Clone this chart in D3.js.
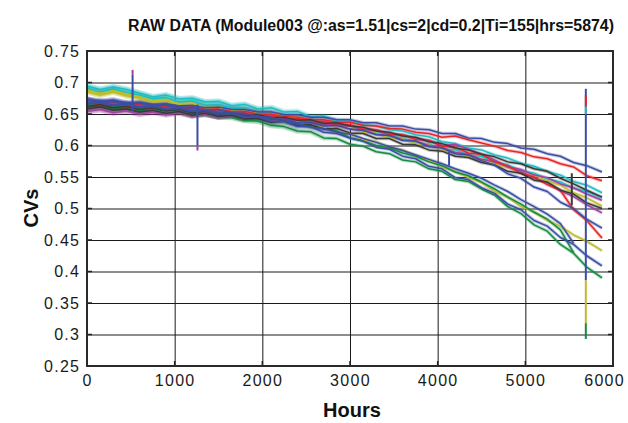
<!DOCTYPE html>
<html><head><meta charset="utf-8">
<script src="https://cdn.jsdelivr.net/npm/d3@7/dist/d3.min.js"></script>
<style>
html,body{margin:0;padding:0;background:#fff;}
svg{display:block;}
</style></head>
<body>
<svg id="chart" width="628" height="423"></svg>
<script>
// ---------- DATA ----------
const titleText = "RAW DATA (Module003 @:as=1.51|cs=2|cd=0.2|Ti=155|hrs=5874)";
const xLabel = "Hours";
const yLabel = "CVs";
const xTicks = [0, 1000, 2000, 3000, 4000, 5000, 6000];
const xTickLabels = ["0", "1000", "2000", "3000", "4000", "5000", "6000"];
const yTicks = [0.25, 0.3, 0.35, 0.4, 0.45, 0.5, 0.55, 0.6, 0.65, 0.7, 0.75];
const yTickLabels = ["0.25", "0.3", "0.35", "0.4", "0.45", "0.5", "0.55", "0.6", "0.65", "0.7", "0.75"];

const hours = [0,150,300,450,600,750,900,1050,1200,1350,1500,1650,1800,1950,2100,2250,2400,2550,2700,2850,3000,3150,3300,3450,3600,3750,3900,4050,4200,4350,4500,4650,4800,4950,5100,5250,5400,5550,5700,5874];

const cyanA = [.694,.689,.693,.689,.683,.677,.680,.674,.675,.669,.670,.663,.665,.658,.660,.653,.654,.646,.647,.639,.639,.633,.631,.625,.623,.617,.614,.606,.603,.596,.593,.585,.580,.572,.567,.559,.553,.543,.537,.525];
const cyanB = [.691,.685,.690,.684,.680,.674,.676,.669,.671,.664,.665,.659,.658,.652,.651,.645,.645,.638,.638,.631,.631,.623,.621,.614,.612,.604,.602,.594,.593,.585,.583,.573,.569,.560,.556,.547,.542,.532,.527,.517];
const yellowA = [.685,.680,.685,.679,.675,.669,.671,.665,.666,.660,.662,.656,.657,.651,.652,.646,.645,.638,.637,.630,.629,.621,.620,.612,.611,.603,.601,.593,.590,.582,.579,.570,.566,.557,.553,.544,.537,.525,.517,.504];
const yellowB = [.688,.683,.687,.682,.677,.671,.673,.666,.667,.660,.660,.652,.653,.645,.646,.638,.637,.629,.629,.620,.619,.609,.606,.596,.593,.583,.577,.566,.559,.549,.541,.527,.518,.503,.495,.481,.472,.458,.448,.433];
const greenA = [.663,.665,.660,.661,.656,.658,.653,.654,.649,.650,.646,.645,.640,.639,.632,.630,.623,.622,.612,.611,.602,.599,.590,.587,.577,.574,.563,.559,.546,.543,.531,.521,.503,.492,.474,.464,.443,.429,.407,.390];
const greenB = [.664,.667,.661,.664,.658,.661,.656,.658,.653,.655,.650,.651,.647,.645,.642,.639,.635,.632,.627,.623,.612,.607,.600,.596,.588,.583,.574,.568,.558,.552,.542,.531,.518,.507,.494,.483,.466,.430,null,null];
const magentaA = [.654,.657,.652,.655,.650,.653,.649,.652,.647,.650,.645,.648,.643,.645,.640,.642,.636,.638,.632,.633,.626,.624,.618,.616,.609,.607,.600,.597,.589,.586,.578,.574,.566,.562,.553,.549,.539,.533,.523,.513];
const magentaB = [.672,.667,.669,.664,.666,.661,.663,.658,.659,.655,.656,.651,.651,.646,.646,.641,.641,.636,.636,.631,.631,.625,.624,.618,.617,.611,.608,.600,.602,.594,.586,.577,.566,.559,.548,.541,.528,.519,.506,.493];
const redA = [.669,.666,.667,.664,.665,.662,.662,.659,.660,.657,.658,.654,.654,.650,.650,.646,.645,.641,.641,.637,.637,.632,.631,.627,.626,.621,.619,.613,.615,.609,.604,.599,.592,.589,.582,.579,.571,.566,.552,.544];
const redB = [.669,.664,.667,.661,.664,.659,.662,.657,.659,.654,.657,.651,.652,.646,.648,.642,.643,.637,.638,.632,.633,.626,.625,.618,.617,.610,.608,.599,.597,.588,.586,.574,.568,.556,.550,.538,.529,.498,.481,.453];
const blackA = [.662,.665,.660,.662,.657,.660,.655,.658,.652,.655,.650,.652,.647,.649,.644,.645,.640,.641,.635,.636,.631,.629,.623,.621,.615,.613,.606,.603,.596,.593,.586,.582,.574,.571,.563,.559,.548,.539,.529,.518];
const blackB = [.658,.661,.656,.658,.653,.656,.651,.654,.648,.651,.646,.648,.642,.643,.637,.639,.632,.633,.626,.627,.620,.619,.611,.611,.602,.601,.593,.591,.583,.581,.573,.569,.559,.556,.545,.542,.529,.523,.509,.500];
const blueA = [.673,.670,.672,.667,.668,.665,.666,.663,.664,.660,.661,.657,.657,.653,.653,.649,.649,.645,.645,.641,.641,.636,.636,.631,.631,.626,.625,.619,.619,.612,.611,.605,.603,.596,.594,.587,.583,.573,.568,.558];
const blueB = [.666,.668,.663,.665,.660,.662,.657,.659,.654,.656,.651,.652,.646,.647,.641,.642,.636,.637,.631,.632,.626,.624,.617,.616,.608,.607,.598,.596,.587,.585,.576,.569,.555,.548,.534,.527,.510,.500,.483,.469];
const blueC = [.668,.670,.664,.667,.661,.663,.657,.659,.654,.656,.650,.651,.645,.645,.638,.638,.630,.630,.621,.619,.612,.607,.597,.594,.583,.579,.567,.563,.549,.546,.533,.524,.507,.498,.481,.472,.454,.443,.425,.409];
const blueD = [.673,.668,.670,.665,.667,.662,.664,.659,.660,.656,.657,.652,.651,.646,.645,.639,.634,.629,.627,.621,.618,.611,.605,.598,.592,.585,.578,.571,.563,.556,.548,.537,.527,.514,.503,.491,.476,.445,null,null];

// spikes: vertical glitches (hour, from value, to value, colour key)
const spikeHour = [520, 520, 1260, 1260, 5690, 5690, 5690, 5690, 5690, 4130, 5530];
const spikeFrom = [0.655, 0.712, 0.665, 0.600, 0.690, 0.680, 0.386, 0.318, 0.662, 0.590, 0.556];
const spikeTo   = [0.712, 0.720, 0.600, 0.592, 0.386, 0.661, 0.318, 0.293, 0.650, 0.568, 0.505];
const spikeColor = ["blue", "magenta", "blue", "magenta", "blue", "red", "yellow", "green", "cyan", "blue", "black"];

const palette = {
  blue: "#3a4ea5", red: "#e8262a", green: "#148a42", cyan: "#20bcc4",
  magenta: "#a340a3", yellow: "#bcbc2c", black: "#3a3a3a"
};

const series = [
  {c: "cyan", v: cyanA}, {c: "cyan", v: cyanB},
  {c: "yellow", v: yellowA}, {c: "yellow", v: yellowB},
  {c: "green", v: greenA}, {c: "green", v: greenB},
  {c: "magenta", v: magentaA}, {c: "magenta", v: magentaB},
  {c: "red", v: redA}, {c: "red", v: redB},
  {c: "black", v: blackA}, {c: "black", v: blackB},
  {c: "blue", v: blueA}, {c: "blue", v: blueB}, {c: "blue", v: blueC}, {c: "blue", v: blueD}
];

// ---------- CHART ----------
const svg = d3.select("#chart");
const X0 = 87, X1 = 613, Y0 = 51, Y1 = 366;
const x = d3.scaleLinear().domain([0, 6000]).range([X0, X1]);
const y = d3.scaleLinear().domain([0.25, 0.75]).range([Y1, Y0]);
const W = X1 - X0, H = Y1 - Y0;
const tickFont = "'Liberation Sans', Arial, sans-serif";

// grid + axes
const gx = svg.append("g").attr("transform", `translate(0,${Y1})`)
  .call(d3.axisBottom(x).tickValues(xTicks).tickFormat((d, i) => xTickLabels[i])
    .tickSizeInner(-H).tickSizeOuter(0).tickPadding(9));
const gy = svg.append("g").attr("transform", `translate(${X0},0)`)
  .call(d3.axisLeft(y).tickValues(yTicks).tickFormat((d, i) => yTickLabels[i])
    .tickSizeInner(-W).tickSizeOuter(0).tickPadding(8));
[gx, gy].forEach(g => {
  g.select(".domain").remove();
  g.selectAll(".tick line").attr("stroke", "#1a1a1a").attr("stroke-width", 1);
  g.selectAll(".tick text").attr("fill", "#1a1a1a")
    .style("font-family", tickFont).style("font-size", "16px").style("letter-spacing", "1.3px");
});
gy.selectAll(".tick text").attr("dx", "1.3px");
// keep last x label inside canvas
gx.selectAll(".tick text").each(function () {
  const t = d3.select(this);
  const bb = this.getBBox();
  const tx = +d3.select(this.parentNode).attr("transform").match(/translate\(([-\d.]+)/)[1];
  const right = tx + bb.x + bb.width;
  if (right > 625) t.attr("x", 625 - right);
});

// lines
const line = d3.line()
  .defined(d => d[1] != null)
  .x(d => x(d[0])).y(d => y(d[1]));
const defs = svg.append("defs");
defs.append("clipPath").attr("id", "clip").append("rect")
  .attr("x", X0).attr("y", Y0).attr("width", W).attr("height", H);
const grad = defs.append("linearGradient").attr("id", "fade")
  .attr("gradientUnits", "userSpaceOnUse")
  .attr("x1", x(0)).attr("x2", x(3200)).attr("y1", 0).attr("y2", 0);
grad.append("stop").attr("offset", 0).attr("stop-color", "#fff");
grad.append("stop").attr("offset", 0.55).attr("stop-color", "#fff");
grad.append("stop").attr("offset", 1).attr("stop-color", "#000");
defs.append("mask").attr("id", "earlyMask").attr("maskUnits", "userSpaceOnUse")
  .attr("x", 0).attr("y", 0).attr("width", 628).attr("height", 423)
  .append("rect").attr("x", X0).attr("y", Y0).attr("width", W).attr("height", H)
  .attr("fill", "url(#fade)");

const lg = svg.append("g").attr("clip-path", "url(#clip)");
const early = lg.append("g").attr("mask", "url(#earlyMask)");

// noise band (early, denser noise)
series.forEach(s => {
  const pts = hours.map((h, i) => [h, s.v[i]]);
  early.append("path").attr("d", line(pts)).attr("fill", "none")
    .attr("stroke", palette[s.c]).attr("stroke-opacity", 0.35).attr("stroke-width", 6)
    .attr("stroke-linejoin", "round");
});
series.forEach(s => {
  const pts = hours.map((h, i) => [h, s.v[i]]);
  lg.append("path").attr("d", line(pts)).attr("fill", "none")
    .attr("stroke", palette[s.c]).attr("stroke-opacity", 0.3).attr("stroke-width", 3.5)
    .attr("stroke-linejoin", "round");
});
series.forEach(s => {
  const pts = hours.map((h, i) => [h, s.v[i]]);
  lg.append("path").attr("d", line(pts)).attr("fill", "none")
    .attr("stroke", palette[s.c]).attr("stroke-width", 1.5)
    .attr("stroke-linejoin", "round");
});
spikeHour.forEach((h, i) => {
  lg.append("line")
    .attr("x1", x(h)).attr("x2", x(h))
    .attr("y1", y(spikeFrom[i])).attr("y2", y(spikeTo[i]))
    .attr("stroke", palette[spikeColor[i]]).attr("stroke-width", 2);
});

// inner tick marks on all sides
const tk = svg.append("g").attr("stroke", "#222").attr("stroke-width", 1.5);
xTicks.forEach(t => {
  tk.append("line").attr("x1", x(t)).attr("x2", x(t)).attr("y1", Y1).attr("y2", Y1 - 5);
  tk.append("line").attr("x1", x(t)).attr("x2", x(t)).attr("y1", Y0).attr("y2", Y0 + 5);
});
yTicks.forEach(t => {
  tk.append("line").attr("x1", X0).attr("x2", X0 + 5).attr("y1", y(t)).attr("y2", y(t));
  tk.append("line").attr("x1", X1).attr("x2", X1 - 5).attr("y1", y(t)).attr("y2", y(t));
});

// frame
svg.append("rect").attr("x", X0).attr("y", Y0).attr("width", W).attr("height", H)
  .attr("fill", "none").attr("stroke", "#2a2a2a").attr("stroke-width", 2);

// titles
svg.append("text").attr("x", 371).attr("y", 31).attr("text-anchor", "middle")
  .attr("textLength", 486).attr("lengthAdjust", "spacingAndGlyphs")
  .style("font-family", tickFont).style("font-weight", "bold").style("font-size", "16px")
  .attr("fill", "#111").text(titleText);
svg.append("text").attr("x", 352).attr("y", 417).attr("text-anchor", "middle")
  .style("font-family", tickFont).style("font-weight", "bold").style("font-size", "20px")
  .attr("fill", "#111").text(xLabel);
svg.append("text").attr("transform", "translate(38,208) rotate(-90)").attr("text-anchor", "middle")
  .style("font-family", tickFont).style("font-weight", "bold").style("font-size", "20px")
  .attr("fill", "#111").text(yLabel);
</script>
</body></html>
